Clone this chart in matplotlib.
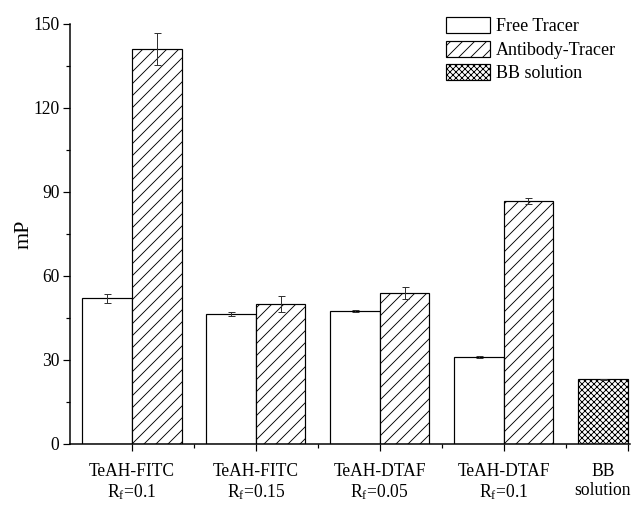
import numpy as np
import matplotlib
matplotlib.use("Agg")
import matplotlib.pyplot as plt
from matplotlib.ticker import MultipleLocator, FixedLocator

plt.rcParams['font.family'] = ['Liberation Serif', 'DejaVu Serif']
plt.rcParams['mathtext.fontset'] = 'stix'
plt.rcParams['hatch.linewidth'] = 0.9

groups = ["TeAH-FITC\nR$_\\mathregular{f}$=0.1", "TeAH-FITC\nR$_\\mathregular{f}$=0.15",
          "TeAH-DTAF\nR$_\\mathregular{f}$=0.05", "TeAH-DTAF\nR$_\\mathregular{f}$=0.1"]
free_mp = [52.0, 46.4, 47.5, 31.0]
free_err = [1.6, 0.8, 0.2, 0.3]
antibody_mp = [141.1, 50.1, 53.8, 86.9]
antibody_err = [5.6, 2.8, 2.1, 1.1]
bb_mp = [23.1]
bb_err = [0.2]
bb_label = "BB\nsolution"

dpi = 72
fig = plt.figure(figsize=(642 / dpi, 505 / dpi), dpi=dpi)
ax = fig.add_axes([70 / 642, 61 / 505, 560 / 642, 420 / 505])

x = np.arange(1, len(groups) + 1)
w = 0.4
ekw = dict(ecolor='#333333', elinewidth=1.0, capthick=1.0)
ax.bar(x - w / 2, free_mp, w, yerr=free_err, capsize=3.5, color='white',
       edgecolor='black', linewidth=1.2, error_kw=ekw, label='Free Tracer')
ax.bar(x + w / 2, antibody_mp, w, yerr=antibody_err, capsize=3.5, color='white',
       edgecolor='black', linewidth=1.2, hatch='//', error_kw=ekw, label='Antibody-Tracer')
bb_x = [len(groups) + 1 - w / 2]
ax.bar(bb_x, bb_mp, w, yerr=bb_err, capsize=3.5, color='white',
       edgecolor='black', linewidth=1.2, hatch='xxxx', error_kw=ekw, label='BB solution')

ax.set_xlim(0.5, 5.02)
ax.set_ylim(0, 150)
ax.spines['top'].set_visible(False)
ax.spines['right'].set_visible(False)
ax.spines['left'].set_linewidth(1.5)
ax.spines['bottom'].set_linewidth(1.5)

ax.yaxis.set_major_locator(MultipleLocator(30))
ax.yaxis.set_minor_locator(MultipleLocator(15))
ax.xaxis.set_major_locator(FixedLocator([1, 2, 3, 4, 5]))
ax.xaxis.set_minor_locator(FixedLocator([1.5, 2.5, 3.5, 4.5]))
ax.set_xticklabels([])
ax.tick_params(axis='both', which='major', direction='out', length=7, width=1.2, labelsize=17.5)
ax.tick_params(axis='both', which='minor', direction='out', length=4, width=1.2)

# group labels sit under each pair, the BB label under its single bar
label_x = list(x) + bb_x
for lx, lab in zip(label_x, groups + [bb_label]):
    ax.text(lx, -0.045, lab, transform=ax.get_xaxis_transform(), ha='center', va='top',
            fontsize=17.5, linespacing=1.15)

ax.set_ylabel('mP', fontsize=22, labelpad=0)

ax.legend(loc='upper left', bbox_to_anchor=(446 / 642, 1 - 17 / 505),
          bbox_transform=fig.transFigure, frameon=False, fontsize=18,
          handlelength=2.45, handleheight=1.0, labelspacing=0.3,
          handletextpad=0.33, borderpad=0, borderaxespad=0)

fig.savefig("out.png", dpi=dpi)
